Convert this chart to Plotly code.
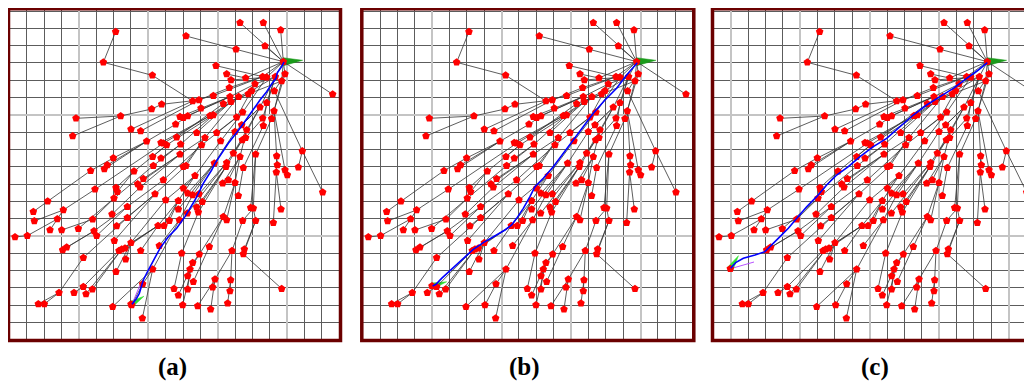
import math
import plotly.graph_objects as go

PAGE_W, PAGE_H = 1032, 382
BODY_M = 8  # default browser body margin
W, H = PAGE_W - BODY_M, PAGE_H - BODY_M

# ---- tree nodes (map units; same tree in all three panels) ----
node_x = [850, 855, 845, 826, 800, 788, 737, 720, 790, 842,
          795, 708, 558, 347, 310, 457, 578, 640, 998, 648,
          680, 693, 765, 755, 745, 688, 690, 716, 597, 823,
          800, 780, 670, 693, 603, 485, 455, 362, 228, 540,
          550, 563, 630, 640, 728, 710, 788, 822, 815, 527,
          393, 422, 218, 590, 650, 705, 740, 725, 790, 530,
          440, 483, 500, 490, 542, 605, 615, 662, 727, 737,
          700, 720, 767, 540, 458, 483, 340, 322, 313, 272,
          460, 402, 550, 558, 643, 680, 678, 730, 830, 832,
          829, 855, 862, 907, 895, 968, 585, 430, 490, 413,
          420, 348, 352, 285, 668, 685, 705, 550, 563, 578,
          597, 465, 342, 715, 143, 497, 535, 607, 382, 535,
          590, 595, 562, 752, 760, 843, 100, 190, 172, 103,
          336, 382, 278, 508, 538, 670, 680, 728, 767, 820,
          150, 185, 235, 350, 282, 290, 474, 492, 45, 82,
          343, 393, 188, 200, 357, 365, 375, 422, 478, 250,
          377, 545, 598, 628, 696, 733, 730, 348, 458, 578,
          570, 428, 563, 580, 645, 692, 638, 845, 250, 277,
          258, 222, 177, 115, 133, 338, 522, 535, 563, 690,
          548, 593, 632, 683, 427, 395]
node_y = [185, 222, 243, 230, 232, 230, 234, 68, 68, 90,
          138, 148, 108, 95, 187, 226, 303, 287, 283, 197,
          222, 240, 252, 272, 282, 263, 290, 290, 300, 273,
          308, 322, 311, 305, 325, 313, 327, 348, 355, 350,
          353, 348, 347, 345, 337, 352, 355, 333, 356, 373,
          388, 393, 408, 398, 398, 395, 390, 375, 377, 412,
          424, 428, 435, 430, 433, 435, 413, 423, 420, 413,
          460, 470, 463, 463, 470, 475, 474, 495, 507, 512,
          497, 514, 500, 497, 490, 488, 500, 503, 468, 495,
          517, 510, 525, 453, 502, 577, 527, 536, 540, 552,
          562, 563, 575, 568, 550, 540, 548, 565, 580, 585,
          582, 582, 595, 587, 604, 600, 602, 605, 620, 628,
          622, 637, 640, 623, 625, 628, 635, 630, 657, 663,
          643, 653, 658, 662, 660, 650, 660, 662, 662, 668,
          690, 690, 686, 678, 693, 707, 677, 677, 711, 707,
          722, 728, 750, 742, 752, 748, 745, 752, 737, 773,
          778, 760, 763, 740, 752, 748, 762, 815, 808, 788,
          808, 852, 828, 845, 838, 840, 862, 866, 860, 868,
          882, 878, 878, 912, 912, 920, 866, 886, 868, 873,
          915, 918, 928, 910, 955, 915]
node_parent = [-1, 0, 0, 0, 0, 0, 0, 0, 0, 0,
               0, 0, 11, 14, 15, 16, 17, 5, 0, 5,
               6, 4, 3, 3, 2, 5, 22, 23, 25, 1,
               3, 3, 24, 24, 26, 28, 35, 36, 37, 34,
               26, 26, 27, 27, 4, 22, 3, 2, 1, 41,
               16, 28, 37, 33, 44, 31, 31, 31, 30, 32,
               49, 42, 43, 42, 43, 45, 27, 44, 31, 46,
               56, 56, 48, 66, 62, 64, 60, 60, 60, 76,
               64, 62, 66, 66, 55, 68, 68, 58, 47, 88,
               88, 47, 91, 29, 93, 93, 67, 73, 65, 73,
               73, 81, 81, 63, 71, 71, 71, 96, 84, 84,
               85, 83, 80, 87, 79, 96, 96, 86, 98, 84,
               86, 86, 85, 72, 72, 90, 114, 103, 127, 127,
               100, 111, 112, 116, 109, 106, 106, 124, 124, 90,
               128, 132, 112, 111, 118, 118, 116, 116, 149, 128,
               111, 115, 144, 144, 146, 146, 146, 146, 134, 131,
               151, 121, 135, 135, 137, 138, 138, 151, 134, 162,
               162, 168, 169, 163, 164, 164, 174, 166, 154, 155,
               155, 178, 159, 182, 182, 168, 161, 170, 170, 175,
               169, 174, 174, 175, 168, 171]

# ---- start pose (same in all panels) ----
start_x, start_y, start_heading = 850, 185, 4

# ---- goal poses per panel ----
goal_x = [393, 236, 79]
goal_y = [913, 858, 806]
goal_heading = [32, 16, 58]

# ---- planned paths (blue) ----
path_a_x = [852, 845, 832, 828, 815, 800, 780, 760, 740, 720, 700, 685, 665, 645,
            635, 610, 585, 555, 530, 505, 480, 460, 445, 430, 425, 418, 408, 396]
path_a_y = [186, 200, 218, 235, 252, 275, 300, 330, 357, 385, 410, 430, 460, 490,
            510, 550, 600, 650, 685, 710, 745, 780, 810, 840, 855, 880, 898, 913]
path_b_x = [852, 820, 790, 755, 720, 690, 660, 630, 600, 570, 545, 530, 510, 490,
            475, 455, 420, 390, 360, 330, 295, 265, 248, 238]
path_b_y = [188, 225, 265, 300, 340, 380, 420, 460, 500, 535, 560, 590, 625, 655,
            675, 690, 710, 728, 748, 775, 805, 835, 853, 858]
path_c_x = [850, 823, 788, 748, 708, 668, 628, 588, 548, 508, 468, 433, 398, 368,
            338, 308, 278, 253, 228, 203, 183, 153, 118, 95, 80]
path_c_y = [188, 210, 235, 265, 290, 315, 345, 380, 415, 440, 470, 500, 525, 555,
            590, 620, 655, 685, 710, 735, 755, 765, 775, 788, 805]
paths_x = [path_a_x, path_b_x, path_c_x]
paths_y = [path_a_y, path_b_y, path_c_y]

# thin purple segments near the goal (panels a and c)
purple_x = [[395, 420], [], [80, 150]]
purple_y = [[915, 855], [], [806, 786]]

panel_labels = ["(a)", "(b)", "(c)"]

# ---- layout geometry (page pixels) ----
panel_offsets = [0.0, 353.3, 704.0]
frame_l, frame_r, frame_t, frame_b = 8.5, 340.5, 8.7, 340.5
SCALE = 3.0  # map units per pixel
label_x = [172, 524, 875]
label_y = 367


def fx(p):
    return (p - BODY_M) / W


def fy(p):
    return (H - (p - BODY_M)) / H


def triangle(x, y, heading, length, half_w):
    t = math.radians(heading)
    ux, uy = math.cos(t), -math.sin(t)
    px, py = -uy, ux
    tip = (x + length * ux, y + length * uy)
    b1 = (x + half_w * px, y + half_w * py)
    b2 = (x - half_w * px, y - half_w * py)
    xs = [tip[0], b1[0], b2[0], tip[0]]
    ys = [tip[1], b1[1], b2[1], tip[1]]
    return xs, ys


edge_x, edge_y = [], []
for i, p in enumerate(node_parent):
    if p >= 0:
        edge_x += [node_x[i], node_x[p], None]
        edge_y += [node_y[i], node_y[p], None]

fig = go.Figure()
layout_axes = {}
shapes = []
annotations = []

for k in range(3):
    sfx = "" if k == 0 else str(k + 1)
    xa, ya = "x" + sfx, "y" + sfx
    off = panel_offsets[k]
    x0px = off + frame_l
    x1px = min(off + frame_r, PAGE_W)
    xr0 = frame_l * SCALE
    xr1 = xr0 + (x1px - x0px) * SCALE
    major0 = 236.4 if k < 2 else 80.1
    layout_axes["xaxis" + sfx] = dict(
        domain=[fx(x0px), min(fx(x1px), 1.0)], range=[xr0, xr1], anchor=ya,
        showticklabels=False, ticks="", zeroline=False, showline=False,
        tickmode="linear", tick0=major0, dtick=208.4,
        showgrid=True, gridcolor="#c4c4c4", gridwidth=2,
        minor=dict(tickmode="linear", tick0=28, dtick=52.1, showgrid=True,
                   gridcolor="#5c5c5c", gridwidth=1, ticks=""),
    )
    layout_axes["yaxis" + sfx] = dict(
        domain=[fy(frame_b), fy(frame_t)],
        range=[frame_b * SCALE, frame_t * SCALE], anchor=xa,
        showticklabels=False, ticks="", zeroline=False, showline=False,
        tickmode="linear", tick0=344.4, dtick=363.3,
        showgrid=True, gridcolor="#c4c4c4", gridwidth=2,
        minor=dict(tickmode="linear", tick0=33, dtick=51.9, showgrid=True,
                   gridcolor="#5c5c5c", gridwidth=1, ticks=""),
    )

    # start arrow
    sx, sy = triangle(start_x, start_y, start_heading, 58, 12)
    fig.add_trace(go.Scatter(x=sx, y=sy, xaxis=xa, yaxis=ya, mode="lines",
                             fill="toself", fillcolor="#1a9a1a",
                             line=dict(color="#1a9a1a", width=0.5),
                             hoverinfo="skip", showlegend=False))
    # goal arrow
    gx, gy = triangle(goal_x[k], goal_y[k], goal_heading[k], 46, 9)
    fig.add_trace(go.Scatter(x=gx, y=gy, xaxis=xa, yaxis=ya, mode="lines",
                             fill="toself", fillcolor="#2fe02f",
                             line=dict(color="#2fe02f", width=0.5),
                             hoverinfo="skip", showlegend=False))
    # tree edges
    fig.add_trace(go.Scatter(x=edge_x, y=edge_y, xaxis=xa, yaxis=ya, mode="lines",
                             line=dict(color="rgba(55,55,55,0.9)", width=0.9),
                             hoverinfo="skip", showlegend=False))
    # purple segment
    if purple_x[k]:
        fig.add_trace(go.Scatter(x=purple_x[k], y=purple_y[k], xaxis=xa, yaxis=ya,
                                 mode="lines", line=dict(color="#b040ff", width=0.9),
                                 hoverinfo="skip", showlegend=False))
    # nodes
    fig.add_trace(go.Scatter(x=node_x + [goal_x[k]], y=node_y + [goal_y[k]],
                             xaxis=xa, yaxis=ya, mode="markers",
                             marker=dict(symbol="pentagon", size=8, color="#ff0000",
                                         line=dict(width=0)),
                             hoverinfo="skip", showlegend=False))
    # path
    fig.add_trace(go.Scatter(x=paths_x[k], y=paths_y[k], xaxis=xa, yaxis=ya,
                             mode="lines", line=dict(color="#0000ff", width=1.6),
                             hoverinfo="skip", showlegend=False))

    shapes.append(dict(type="rect", xref="paper", yref="paper",
                       x0=fx(off + frame_l), x1=fx(off + frame_r),
                       y0=fy(frame_b), y1=fy(frame_t),
                       line=dict(color="#6b0000", width=3.5), layer="above"))
    annotations.append(dict(text="<b>" + panel_labels[k] + "</b>", xref="paper",
                            yref="paper", x=fx(label_x[k]), y=fy(label_y),
                            showarrow=False, xanchor="center", yanchor="middle",
                            font=dict(family="Liberation Serif", size=25,
                                      color="#000000")))

fig.update_layout(width=W, height=H, margin=dict(l=0, r=0, t=0, b=0),
                  paper_bgcolor="white", plot_bgcolor="white",
                  shapes=shapes, annotations=annotations, **layout_axes)

fig.write_html("out.html")
